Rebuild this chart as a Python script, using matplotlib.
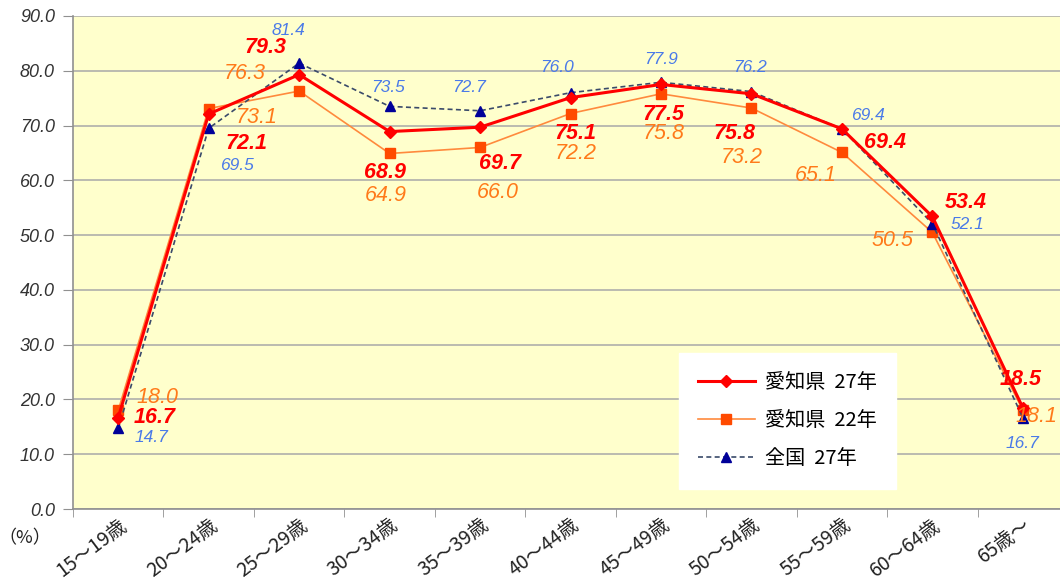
import matplotlib
matplotlib.use("Agg")
import matplotlib.pyplot as plt
from matplotlib.ticker import MultipleLocator, FixedLocator, FuncFormatter
import numpy as np

categories = ["15～19歳", "20～24歳", "25～29歳", "30～34歳", "35～39歳", "40～44歳",
              "45～49歳", "50～54歳", "55～59歳", "60～64歳", "65歳～"]
aichi_27 = [16.7, 72.1, 79.3, 68.9, 69.7, 75.1, 77.5, 75.8, 69.4, 53.4, 18.5]
aichi_22 = [18.0, 73.1, 76.3, 64.9, 66.0, 72.2, 75.8, 73.2, 65.1, 50.5, 18.1]
zenkoku_27 = [14.7, 69.5, 81.4, 73.5, 72.7, 76.0, 77.9, 76.2, 69.4, 52.1, 16.7]
series_names = ["愛知県  27年", "愛知県  22年", "全国  27年"]

# label offsets (pixels from the point, +y = up)
off_red = [(36, 0), (38, -29), (-34, 27), (-5, -41), (20, -36), (5, -36),
           (3, -30), (-17, -40), (43, -14), (33, 14), (-2, 28)]
off_org = [(39, 13), (48, -9), (-54, 18), (-4, -42), (18, -45), (5, -40),
           (3, -40), (-10, -49), (-26, -23), (-40, -8), (14, -7)]
off_blu = [(33, -9), (28, -37), (-11, 33), (-2, 19), (-11, 23), (-13, 25),
           (0, 23), (-1, 24), (26, 13), (35, -1), (0, -26)]

plt.rcParams['font.family'] = ['Noto Sans CJK JP', 'DejaVu Sans']

fig = plt.figure(figsize=(10.6, 5.79), dpi=100)
ax = fig.add_axes([73 / 1060, 70 / 579, 995 / 1060, 493 / 579])
ax.set_facecolor("#FFFFCC")

x = np.arange(len(categories))
l22, = ax.plot(x, aichi_22, color="#FF8A3D", lw=1.2, marker="s", ms=7,
               mfc="#FF4A00", mec="#FF4A00", label=series_names[1], zorder=3)
lzk, = ax.plot(x, zenkoku_27, color="#3A4A6A", lw=1.2, ls=(0, (3, 2)), marker="^", ms=7,
               mfc="#000099", mec="#000099", label=series_names[2], zorder=4)
l27, = ax.plot(x, aichi_27, color="#FF0000", lw=2.2, marker="D", ms=6.5,
               mfc="#FF0000", mec="#FF0000", label=series_names[0], zorder=5)

k = 72 / 100
for i in range(len(x)):
    ax.annotate(f"{aichi_27[i]:.1f}", (x[i], aichi_27[i]),
                xytext=(off_red[i][0] * k, off_red[i][1] * k), textcoords="offset points",
                ha="center", va="center", color="#FF0000", fontsize=15.5,
                style="italic", fontweight="bold", family=["Liberation Sans"], zorder=6)
    ax.annotate(f"{aichi_22[i]:.1f}", (x[i], aichi_22[i]),
                xytext=(off_org[i][0] * k, off_org[i][1] * k), textcoords="offset points",
                ha="center", va="center", color="#FF7A1A", fontsize=15.5,
                style="italic", family=["Liberation Sans"], zorder=6)
    ax.annotate(f"{zenkoku_27[i]:.1f}", (x[i], zenkoku_27[i]),
                xytext=(off_blu[i][0] * k, off_blu[i][1] * k), textcoords="offset points",
                ha="center", va="center", color="#4A7AE8", fontsize=12.5,
                style="italic", family=["Liberation Sans"], zorder=6)

ax.set_xlim(-0.5, len(categories) - 0.5)
ax.set_ylim(0, 90)
ax.yaxis.set_major_locator(MultipleLocator(10))
ax.yaxis.set_major_formatter(FuncFormatter(lambda v, p: f"{v:.1f}"))
for lab in ax.get_yticklabels():
    lab.set_fontstyle("italic")
    lab.set_family(["Liberation Sans"])
    lab.set_fontsize(13)
    lab.set_color("#333333")
ax.grid(axis="y", color="#A8A8A8", lw=1.1)
ax.set_axisbelow(True)

ax.set_xticks(x)
ax.set_xticklabels(categories, rotation=37, ha="right", va="top",
                   rotation_mode="anchor", fontsize=14, color="#222222")
ax.xaxis.set_minor_locator(FixedLocator(np.arange(-0.5, len(categories), 1)))
ax.tick_params(axis="x", which="major", length=0, pad=4)
ax.tick_params(axis="x", which="minor", length=6, color="#909090", direction="out")
ax.tick_params(axis="y", length=7, color="#909090", pad=6)

for s in ["top", "right"]:
    ax.spines[s].set_visible(False)
for s in ["left", "bottom"]:
    ax.spines[s].set_color("#909090")
    ax.spines[s].set_linewidth(1.2)

leg = ax.legend(handles=[l27, l22, lzk], loc="upper left",
                bbox_to_anchor=(606 / 995, (509 - 353) / 493),
                frameon=True, fancybox=False, fontsize=14.5, handlelength=2.8,
                labelspacing=0.85, borderpad=0.95, borderaxespad=0, handletextpad=0.5)
leg.get_frame().set_facecolor("white")
leg.get_frame().set_edgecolor("white")
leg.get_frame().set_alpha(1)
leg.set_zorder(10)

fig.text(25 / 1060, 1 - 538 / 579, "（%）", ha="center", va="center", fontsize=13, color="#222222")

fig.savefig("out.png", dpi=100)
